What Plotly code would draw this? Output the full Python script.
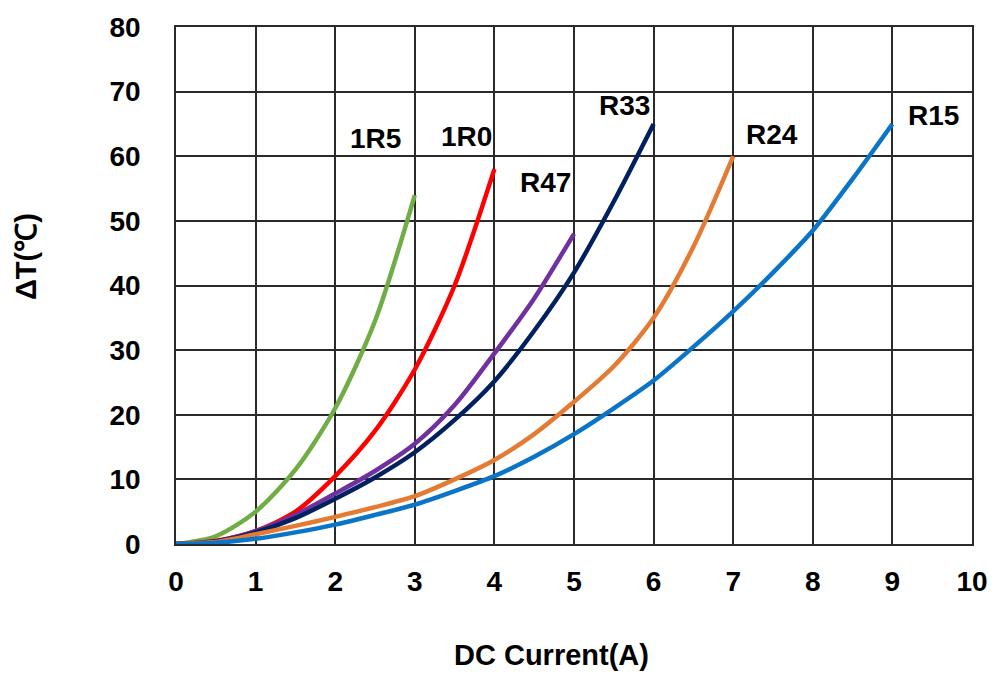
import plotly.graph_objects as go

x_1r5 = [0, 0.5, 1, 1.5, 2, 2.5, 3]
y_1r5 = [0, 1.2, 5, 11.5, 21, 34.5, 54]

x_1r0 = [0, 0.5, 1, 1.5, 2, 2.5, 3, 3.5, 4]
y_1r0 = [0, 0.5, 2, 5, 10.5, 17.5, 27, 40, 58]

x_r47 = [0, 0.5, 1, 1.5, 2, 2.5, 3, 3.5, 4, 4.5, 5]
y_r47 = [0, 0.4, 2, 4.5, 7.8, 11.3, 15.5, 21.5, 29.5, 38, 48]

x_r33 = [0, 0.5, 1, 1.5, 2, 2.5, 3, 3.5, 4, 4.5, 5, 5.5, 6]
y_r33 = [0, 0.4, 1.8, 4, 7, 10.3, 14.2, 19.2, 25.2, 33, 42, 53, 65]

x_r24 = [0, 0.5, 1, 1.5, 2, 2.5, 3, 3.5, 4, 4.5, 5, 5.5, 6, 6.5, 7]
y_r24 = [0, 0.3, 1.5, 2.8, 4.2, 5.7, 7.4, 10, 13, 17, 22, 27.5, 35, 46, 60]

x_r15 = [0, 0.5, 1, 1.5, 2, 2.5, 3, 3.5, 4, 4.5, 5, 5.5, 6, 6.5, 7, 7.5, 8, 8.5, 9]
y_r15 = [0, 0.2, 0.8, 1.8, 3, 4.5, 6.1, 8.2, 10.5, 13.5, 17, 21, 25.3, 30.5, 36, 42, 48.5, 56.5, 65]

series = [
    ("1R5", x_1r5, y_1r5, "#70AD47"),
    ("1R0", x_1r0, y_1r0, "#FF0000"),
    ("R47", x_r47, y_r47, "#7030A0"),
    ("R33", x_r33, y_r33, "#002060"),
    ("R24", x_r24, y_r24, "#E57A32"),
    ("R15", x_r15, y_r15, "#0A74C8"),
]

label_names = ["1R5", "1R0", "R47", "R33", "R24", "R15"]
label_x = [2.51, 3.65, 4.64, 5.63, 7.49, 9.51]
label_y = [62.7, 63.0, 56.0, 67.8, 63.4, 66.3]

x_ticks = list(range(0, 11))
y_ticks = list(range(0, 81, 10))

fig = go.Figure()
for name, xs, ys, col in series:
    fig.add_trace(go.Scatter(x=xs, y=ys, mode="lines", name=name,
                             line=dict(color=col, width=4.5, shape="spline", smoothing=0.8)))

font_b = dict(family="Liberation Sans, Arial, sans-serif", size=28, color="#000000")
font_t = dict(family="Liberation Sans, Arial, sans-serif", size=29, color="#000000")
for n, lx, ly in zip(label_names, label_x, label_y):
    fig.add_annotation(x=lx, y=ly, text=f"<b>{n}</b>", showarrow=False, font=font_b,
                       xanchor="center", yanchor="middle")

fig.add_annotation(xref="paper", yref="paper", x=(555 - 176) / 803, y=-(656 - 544) / 520,
                   text="<b>DC Current(A)</b>", showarrow=False, font=font_t,
                   xanchor="center", yanchor="middle")
fig.add_annotation(xref="paper", yref="paper", x=-(176 - 24) / 803, y=(544 - 255) / 520,
                   text="<b>ΔT(℃)</b>", showarrow=False, font=font_t, textangle=-90,
                   xanchor="center", yanchor="middle")

fig.update_layout(
    width=1000, height=673,
    margin=dict(l=176, r=21, t=24, b=129),
    paper_bgcolor="white", plot_bgcolor="white",
    showlegend=False,
    font=font_b,
)
fig.update_xaxes(range=[0, 10], tickvals=x_ticks, ticktext=[f"<b>{v}</b>" for v in x_ticks],
                 showgrid=True, gridcolor="#2a2a2a", gridwidth=1.5, zeroline=False,
                 showline=True, linecolor="#2a2a2a", linewidth=1.5, mirror=True,
                 ticks="", ticklabelstandoff=12, ticklabeloverflow="allow", tickfont=font_b)
fig.update_yaxes(range=[0, 80], tickvals=y_ticks, ticktext=[f"<b>{v}</b>" for v in y_ticks],
                 showgrid=True, gridcolor="#2a2a2a", gridwidth=1.5, zeroline=False,
                 showline=True, linecolor="#2a2a2a", linewidth=1.5, mirror=True,
                 ticks="", ticklabelstandoff=28, ticklabeloverflow="allow", tickfont=font_b)

fig.write_html(
    "out.html", config={"displayModeBar": False},
    post_script=(
        "document.documentElement.style.overflow='hidden';"
        "document.body.style.margin='0px';document.body.style.overflow='hidden';"
        "var d=document.getElementById('{plot_id}');d.style.overflow='hidden';"
        "if(d.parentElement){d.parentElement.style.overflow='hidden';}"
    ),
)
